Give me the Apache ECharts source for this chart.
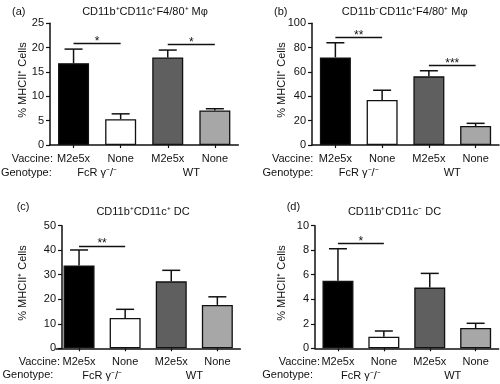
<!DOCTYPE html>
<html>
<head>
<meta charset="utf-8">
<script src="https://cdn.jsdelivr.net/npm/echarts@6/dist/echarts.min.js"></script>
<style>html,body{margin:0;padding:0;background:#fff}#c{width:500px;height:384px}</style>
</head>
<body>
<div id="c"></div>
<script>
// ---- data ----
const vaccineLabels = ['M2e5x', 'None', 'M2e5x', 'None'];
const genotypeLabels = ['FcR γ⁻/⁻', 'WT'];
const panelTags = ['(a)', '(b)', '(c)', '(d)'];
const panelTitles = ['CD11b⁺CD11c⁺F4/80⁺ Mφ', 'CD11b⁻CD11c⁺F4/80⁺ Mφ', 'CD11b⁺CD11c⁺ DC', 'CD11b⁺CD11c⁻ DC'];
const yAxisTitle = '% MHCII⁺ Cells';

const meanA = [16.8, 5.3, 18.0, 7.1];
const semA  = [2.9, 1.1, 1.5, 0.35];
const meanB = [72.0, 37.0, 56.4, 15.6];
const semB  = [12.0, 8.0, 4.6, 2.2];
const meanC = [33.8, 12.4, 27.3, 17.7];
const semC  = [6.3, 3.5, 4.5, 3.3];
const meanD = [5.5, 0.95, 4.95, 1.66];
const semD  = [2.62, 0.46, 1.16, 0.38];

const yMaxes = [25, 100, 50, 10];
const yIntervals = [5, 20, 10, 2];

// significance: [from index, to index, height, stars]
const sigA = [[0, 1, 20.9, '*'], [2, 3, 20.7, '*']];
const sigB = [[0, 1, 88.2, '**'], [2, 3, 65.2, '***']];
const sigC = [[0, 1, 41.8, '**']];
const sigD = [[0, 1, 8.56, '*']];

const barColors = ['#000000', '#ffffff', '#5f5f5f', '#a7a7a7'];

// ---- layout (styles) ----
const FONT = '"Liberation Sans", Arial, Helvetica, sans-serif';
const INK = '#111';
const grids = [
  {left: 50, top: 23.3, width: 188.4, height: 121.7},
  {left: 312, top: 23.3, width: 187, height: 121.7},
  {left: 56, top: 225.7, width: 184.4, height: 122.6},
  {left: 315, top: 225.7, width: 183.6, height: 122.6}
];
const yOffsets = [0, 0, -6, 0];
const titlePos = [[145, 12], [404.7, 12], [143, 211.7], [394.5, 211.7]];
const tagPos = [[12, 12], [274, 12], [16.7, 207], [286.7, 207]];
const yTitlePos = [[23.3, 80], [282, 80], [23.3, 283], [282, 283]];
const vaccinePos = [[53, 159], [313.3, 159], [60, 362], [320, 362]];
const genotypePos = [[51.7, 173], [313.3, 173], [53.3, 375], [313, 375]];

const means = [meanA, meanB, meanC, meanD];
const sems = [semA, semB, semC, semD];
const sigs = [sigA, sigB, sigC, sigD];

const xAxes = [], yAxes = [], series = [], titles = [], graphics = [];

function errorRender(params, api) {
  const x = api.value(0), m = api.value(1), e = api.value(2);
  const p0 = api.coord([x, m]);
  const p1 = api.coord([x, m + e]);
  const hw = 9;
  const st = {stroke: INK, lineWidth: 1.5};
  return {type: 'group', children: [
    {type: 'line', shape: {x1: p0[0], y1: p0[1], x2: p1[0], y2: p1[1]}, style: st},
    {type: 'line', shape: {x1: p1[0] - hw, y1: p1[1], x2: p1[0] + hw, y2: p1[1]}, style: st}
  ]};
}

for (let i = 0; i < 4; i++) {
  xAxes.push({
    gridIndex: i, type: 'category', data: vaccineLabels,
    axisLine: {show: true, lineStyle: {color: INK, width: 1.5}},
    axisTick: {show: true, alignWithLabel: true, length: 3, lineStyle: {color: INK, width: 1.2}},
    axisLabel: {color: INK, fontSize: 11, fontFamily: FONT, margin: 8, interval: 0},
    splitLine: {show: false}
  });
  xAxes.push({
    gridIndex: i, type: 'category', data: genotypeLabels, position: 'bottom', offset: 14,
    axisLine: {show: false}, axisTick: {show: false},
    axisLabel: {color: INK, fontSize: 11, fontFamily: FONT, margin: 8, interval: 0},
    splitLine: {show: false}
  });
  yAxes.push({
    gridIndex: i, type: 'value', min: 0, max: yMaxes[i], interval: yIntervals[i], offset: yOffsets[i],
    axisLine: {show: true, lineStyle: {color: INK, width: 1.5}},
    axisTick: {show: true, length: 4, lineStyle: {color: INK, width: 1.2}},
    axisLabel: {color: INK, fontSize: 11, fontFamily: FONT, margin: 6},
    splitLine: {show: false}
  });
  series.push({
    type: 'bar', xAxisIndex: i * 2, yAxisIndex: i, barWidth: 31,
    data: means[i].map((v, k) => ({value: v, itemStyle: {color: barColors[k], borderColor: INK, borderWidth: 1.3}})),
    markLine: {
      silent: true, symbol: 'none', animation: false,
      lineStyle: {color: INK, width: 1.3, type: 'solid'},
      label: {show: true, position: 'middle', formatter: '{b}', color: INK, fontSize: 12, fontFamily: FONT, distance: -4},
      data: sigs[i].map(s => [{xAxis: s[0], yAxis: s[2], name: s[3]}, {xAxis: s[1], yAxis: s[2]}])
    },
    z: 2
  });
  series.push({
    type: 'custom', xAxisIndex: i * 2, yAxisIndex: i, renderItem: errorRender,
    encode: {x: 0, y: 1},
    data: means[i].map((v, k) => [k, v, sems[i][k]]),
    z: 3
  });
  titles.push({
    text: panelTitles[i], left: titlePos[i][0], top: titlePos[i][1], textAlign: 'center', textVerticalAlign: 'middle',
    textStyle: {fontSize: 11, fontWeight: 'normal', color: INK, fontFamily: FONT}, padding: 0
  });
  graphics.push({type: 'text', x: tagPos[i][0], y: tagPos[i][1],
    style: {text: panelTags[i], fill: INK, font: '11px ' + FONT, textAlign: 'left', textVerticalAlign: 'middle'}});
  graphics.push({type: 'text', x: yTitlePos[i][0], y: yTitlePos[i][1], rotation: Math.PI / 2,
    style: {text: yAxisTitle, fill: INK, font: '11px ' + FONT, textAlign: 'center', textVerticalAlign: 'middle'}});
  graphics.push({type: 'text', x: vaccinePos[i][0], y: vaccinePos[i][1],
    style: {text: 'Vaccine:', fill: INK, font: '11px ' + FONT, textAlign: 'right', textVerticalAlign: 'middle'}});
  graphics.push({type: 'text', x: genotypePos[i][0], y: genotypePos[i][1],
    style: {text: 'Genotype:', fill: INK, font: '11px ' + FONT, textAlign: 'right', textVerticalAlign: 'middle'}});
}

const chart = echarts.init(document.getElementById('c'), null, {renderer: 'canvas'});
chart.setOption({
  animation: false,
  backgroundColor: '#fff',
  grid: grids,
  xAxis: xAxes,
  yAxis: yAxes,
  title: titles,
  series: series,
  graphic: graphics
});
</script>
</body>
</html>
